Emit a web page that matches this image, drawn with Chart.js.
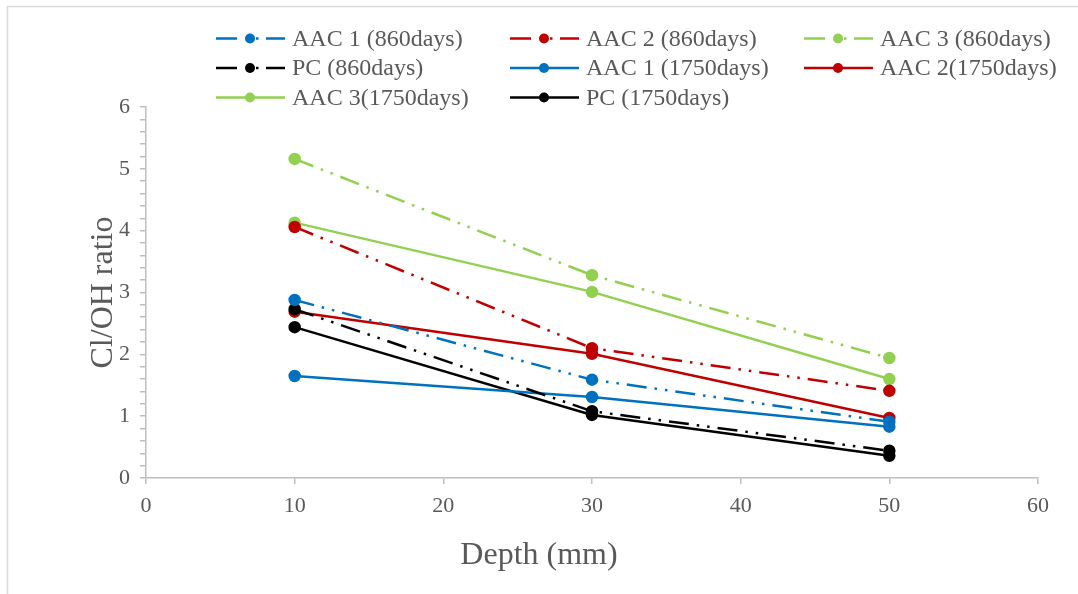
<!DOCTYPE html>
<html>
<head>
<meta charset="utf-8">
<script src="https://cdn.jsdelivr.net/npm/chart.js@4/dist/chart.umd.min.js"></script>
<style>
html,body{margin:0;padding:0;background:#fff;}
#wrap{width:1078px;height:594px;position:relative;}
</style>
</head>
<body>
<div id="wrap"><canvas id="c" width="1078" height="594"></canvas></div>
<script>
const depths = [10, 30, 50];
const seriesLabels = ["AAC 1 (860days)", "AAC 2 (860days)", "AAC 3 (860days)", "PC (860days)",
                      "AAC 1 (1750days)", "AAC 2(1750days)", "AAC 3(1750days)", "PC (1750days)"];
const aac1_860  = [2.88, 1.59, 0.91];
const aac2_860  = [4.06, 2.10, 1.41];
const aac3_860  = [5.16, 3.28, 1.94];
const pc_860    = [2.73, 1.08, 0.44];
const aac1_1750 = [1.65, 1.31, 0.83];
const aac2_1750 = [2.69, 2.01, 0.97];
const aac3_1750 = [4.13, 3.01, 1.60];
const pc_1750   = [2.44, 1.02, 0.36];
const yTicks = [0, 1, 2, 3, 4, 5, 6];
const xTicks = [0, 10, 20, 30, 40, 50, 60];

const seriesValues = [aac1_860, aac2_860, aac3_860, pc_860, aac1_1750, aac2_1750, aac3_1750, pc_1750];
const colors = ["#0070C0", "#C00000", "#92D050", "#000000", "#0070C0", "#C00000", "#92D050", "#000000"];
const dashPattern = [20, 8, 2.5, 8, 2.5, 8];

const FONT = "'Liberation Serif', 'Times New Roman', serif";
const TXT = "#595959";
const AXIS = "#bfbfbf";

const datasets = seriesValues.map((vals, i) => ({
  label: seriesLabels[i],
  data: depths.map((d, j) => ({x: d, y: vals[j]})),
  borderColor: colors[i],
  backgroundColor: colors[i],
  pointBackgroundColor: colors[i],
  pointBorderColor: colors[i],
  borderWidth: 2.5,
  pointRadius: 5,
  pointHoverRadius: 5,
  borderDash: i < 4 ? dashPattern : [],
  borderCapStyle: 'butt',
  tension: 0,
  fill: false,
  yAxisID: 'y'
}));

const frame = {
  id: 'frame',
  beforeDraw(chart) {
    const ctx = chart.ctx;
    ctx.save();
    ctx.fillStyle = '#fff';
    ctx.fillRect(0, 0, chart.width, chart.height);
    ctx.strokeStyle = '#d9d9d9';
    ctx.lineWidth = 1.5;
    ctx.beginPath();
    ctx.moveTo(7.5, chart.height);
    ctx.lineTo(7.5, 6.5);
    ctx.lineTo(chart.width, 6.5);
    ctx.stroke();
    ctx.restore();
  }
};

const customLegend = {
  id: 'customLegend',
  afterDraw(chart) {
    const ctx = chart.ctx;
    ctx.save();
    chart.data.datasets.forEach((ds, i) => {
      const col = i % 3, row = Math.floor(i / 3);
      const x0 = 216 + col * 294;
      const y = 38.5 + row * 29.5;
      ctx.strokeStyle = ds.borderColor;
      ctx.lineWidth = 2.5;
      ctx.lineCap = 'butt';
      ctx.setLineDash([]);
      if (ds.borderDash.length) {
        ctx.beginPath(); ctx.moveTo(x0, y); ctx.lineTo(x0 + 21, y); ctx.stroke();
        ctx.beginPath(); ctx.moveTo(x0 + 50, y); ctx.lineTo(x0 + 69, y); ctx.stroke();
        ctx.beginPath(); ctx.moveTo(x0 + 40, y); ctx.lineTo(x0 + 42.5, y); ctx.stroke();
      } else {
        ctx.beginPath(); ctx.moveTo(x0, y); ctx.lineTo(x0 + 69, y); ctx.stroke();
      }
      ctx.fillStyle = ds.borderColor;
      ctx.beginPath(); ctx.arc(x0 + 34, y, 5, 0, Math.PI * 2); ctx.fill();
      ctx.fillStyle = TXT;
      ctx.font = "24px " + FONT;
      ctx.textBaseline = 'middle';
      ctx.textAlign = 'left';
      ctx.fillText(ds.label, x0 + 76, y + 1);
    });
    ctx.restore();
  }
};

new Chart(document.getElementById('c'), {
  type: 'line',
  data: { datasets },
  options: {
    responsive: false,
    animation: false,
    layout: { padding: { left: 0, top: 107, right: 0, bottom: 0 } },
    plugins: {
      legend: { display: false },
      tooltip: { enabled: false },
      title: {
        display: true,
        position: 'bottom',
        text: 'Depth (mm)',
        color: TXT,
        font: { family: FONT, size: 32, weight: 'normal', lineHeight: 1.2 },
        padding: { top: 0, bottom: 18.8 }
      }
    },
    scales: {
      x: {
        type: 'linear',
        min: 0, max: 60,
        afterFit(s) { s.height = 58.8; },
        afterBuildTicks(s) { s.ticks = xTicks.map(v => ({value: v})); },
        ticks: { stepSize: 10, color: TXT, font: { family: FONT, size: 22 }, padding: 9, maxRotation: 0, autoSkip: false },
        grid: { drawOnChartArea: false, drawTicks: true, tickLength: 6, color: AXIS, lineWidth: 1.5 },
        border: { color: AXIS, width: 1.5 }
      },
      y: {
        type: 'linear',
        position: 'left',
        min: 0, max: 6,
        afterFit(s) { s.width = 146; },
        ticks: {
          stepSize: 0.2,
          maxTicksLimit: 40,
          autoSkip: false,
          color: TXT,
          font: { family: FONT, size: 22 },
          padding: 10,
          callback(v) {
            const r = Math.round(v);
            return (Math.abs(v - r) < 1e-6 && yTicks.includes(r)) ? String(r) : '';
          }
        },
        grid: { drawOnChartArea: false, drawTicks: true, tickLength: 6, color: AXIS, lineWidth: 1.5 },
        border: { color: AXIS, width: 1.5 },
        title: {
          display: true,
          text: 'Cl/OH ratio',
          color: TXT,
          font: { family: FONT, size: 32, weight: 'normal', lineHeight: 1.2 },
          padding: { top: 84, bottom: 0 }
        }
      },
      spacer: {
        type: 'linear',
        position: 'right',
        display: true,
        min: 0, max: 6,
        afterFit(s) { s.width = 40; },
        ticks: { display: false },
        grid: { display: false, drawTicks: false },
        border: { display: false }
      }
    }
  },
  plugins: [frame, customLegend]
});
</script>
</body>
</html>
